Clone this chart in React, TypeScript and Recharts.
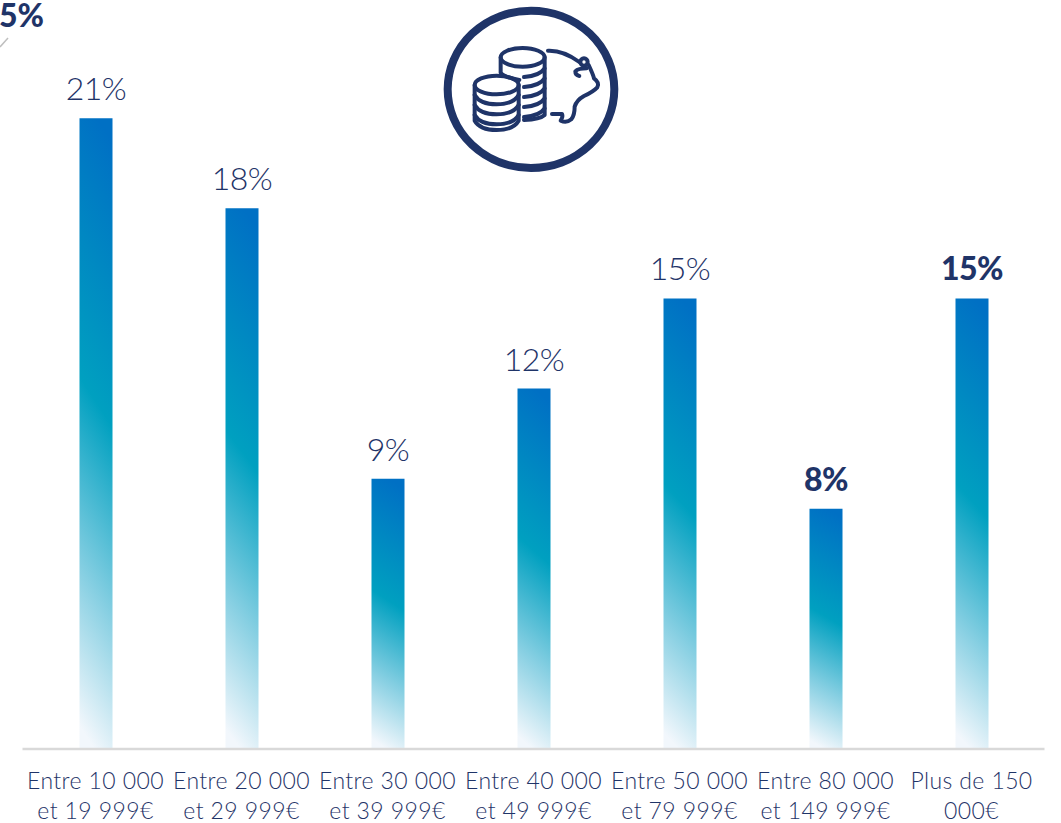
import React from "react";
import { BarChart, Bar, XAxis, YAxis, LabelList } from "recharts";

// Income brackets and the share of respondents in each
const bracketFirstLines = ["Entre 10 000", "Entre 20 000", "Entre 30 000", "Entre 40 000", "Entre 50 000", "Entre 80 000", "Plus de 150"];
const bracketSecondLines = ["et 19 999€", "et 29 999€", "et 39 999€", "et 49 999€", "et 79 999€", "et 149 999€", "000€"];
const shares = [21, 18, 9, 12, 15, 8, 15];
const emphasised = [false, false, false, false, false, true, true];

const rows = shares.map((share, i) => ({ key: i, share }));

const NAVY = "#1F3468";
const TEXT = "#1F3468";
const FONT = "Lato, 'Open Sans', sans-serif";

function BracketTick({ x, y, payload }: any) {
  const i = payload.value as number;
  return (
    <text x={x} textAnchor="middle" fontFamily={FONT} fontWeight={300} fontSize={23} letterSpacing={0.4} fill={TEXT}>
      <tspan x={x} y={y + 32}>{bracketFirstLines[i]}</tspan>
      <tspan x={x} y={y + 62}>{bracketSecondLines[i]}</tspan>
    </text>
  );
}

function ShareLabel({ x, y, width, value, index }: any) {
  const bold = emphasised[index];
  return (
    <text
      x={x + width / 2}
      y={y - 18}
      textAnchor="middle"
      fontFamily={FONT}
      fontWeight={bold ? 900 : 300}
      fontSize={32}
      letterSpacing={-0.6}
      fill={bold ? NAVY : TEXT}
    >
      {value}%
    </text>
  );
}

// Piggy bank and coin stacks emblem, drawn on a 3x grid
function SavingsEmblem() {
  const lowerArcs = [285, 315, 345];
  const upperArcs = [205, 235, 265, 295, 325];
  return (
    <g transform="translate(430,0) scale(0.3333)" fill="none" stroke={NAVY} strokeLinecap="round" strokeLinejoin="round">
      <ellipse cx={303} cy={268} rx={250} ry={236} strokeWidth={24} />
      <g strokeWidth={12}>
        <ellipse cx={278} cy={172} rx={66} ry={28} />
        <path d="M212 172 V218 Q222 232 268 240" />
        <path d="M344 172 V345 Q330 358 282 360" />
        {upperArcs.map((y) => (
          <path key={y} d={`M282 ${y + 26} Q330 ${y + 22} 344 ${y}`} />
        ))}
        <ellipse cx={200} cy={255} rx={66} ry={28} />
        <path d="M134 255 V362 Q150 390 200 390 Q250 390 266 362 V255" />
        {lowerArcs.map((y) => (
          <path key={y} d={`M134 ${y} Q150 ${y + 28} 200 ${y + 28} Q250 ${y + 28} 266 ${y}`} />
        ))}
        <path d="M354 152 Q400 150 448 186 M476 195 Q490 225 492 235 Q510 248 502 262 Q490 275 462 288 Q440 300 434 320 Q434 345 424 358 Q410 370 392 362 Q400 350 396 342 H366" />
        <circle cx={462} cy={186} r={11} />
        <path d="M470 205 Q445 205 436 214 Q436 226 448 228" />
      </g>
    </g>
  );
}

export default function App() {
  return (
    <div style={{ position: "absolute", left: 0, top: 0, width: 1061, height: 823, overflow: "hidden", background: "#fff" }}>
      <BarChart width={1061} height={823} data={rows} margin={{ top: 28, right: 16.5, bottom: 0, left: 22.5 }}>
        <defs>
          <linearGradient id="barFade" x1="0.54" y1="0" x2="0.46" y2="1">
            <stop offset="0" stopColor="#0070C4" />
            <stop offset="0.45" stopColor="#00A0C0" />
            <stop offset="0.75" stopColor="#86CFE2" />
            <stop offset="1" stopColor="#F2F7FC" />
          </linearGradient>
        </defs>
        <XAxis
          dataKey="key"
          height={74}
          interval={0}
          tickLine={false}
          axisLine={{ stroke: "#D9D9D9", strokeWidth: 2.4 }}
          tick={<BracketTick />}
        />
        <YAxis hide domain={[0, 24]} />
        <Bar dataKey="share" barSize={33} fill="url(#barFade)" isAnimationActive={false}>
          <LabelList dataKey="share" content={<ShareLabel />} />
        </Bar>
      </BarChart>
      <svg width={1061} height={823} style={{ position: "absolute", left: 0, top: 0, pointerEvents: "none" }}>
        <SavingsEmblem />
        <text x={44} y={27} textAnchor="end" fontFamily={FONT} fontWeight={900} fontSize={32} fill={NAVY}>5%</text>
        <line x1={0} y1={47} x2={8} y2={38} stroke="#BFBFBF" strokeWidth={1.5} />
      </svg>
    </div>
  );
}
